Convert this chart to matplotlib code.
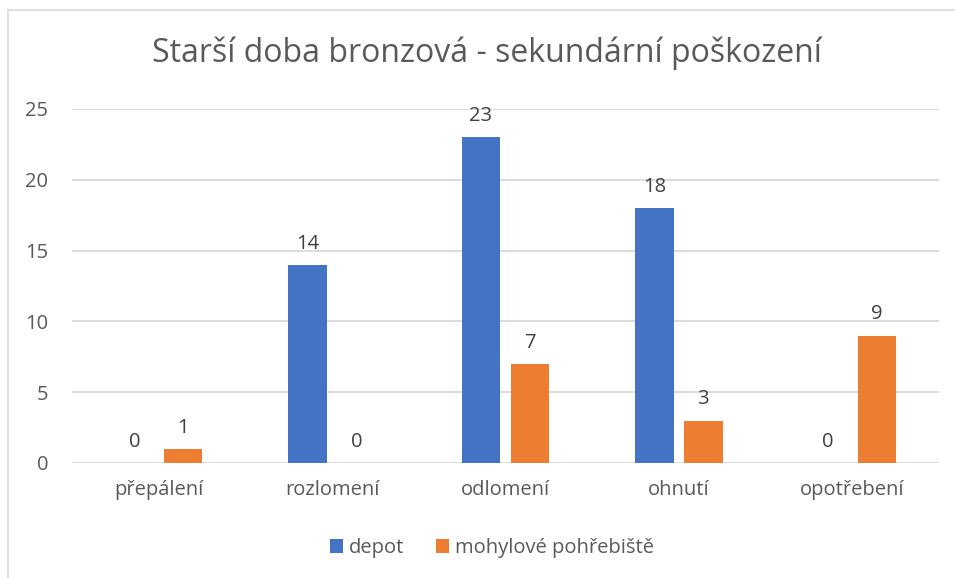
import matplotlib
matplotlib.use("Agg")
import matplotlib.pyplot as plt
import numpy as np
from matplotlib.patches import Rectangle

categories = ["přepálení", "rozlomení", "odlomení", "ohnutí", "opotřebení"]
depot = [0, 14, 23, 18, 0]
mohyl = [1, 0, 7, 3, 9]
series_names = ["depot", "mohylové pohřebiště"]
yticks = [0, 5, 10, 15, 20, 25]

plt.rcParams['font.family'] = ['Open Sans', 'DejaVu Sans']
TXT = '#595959'
BLUE = '#4472C4'
ORANGE = '#ED7D31'

fig = plt.figure(figsize=(9.55, 5.78), dpi=100)
ax = fig.add_axes([72/955, 1-463/578, (939-72)/955, (463-109)/578])

x = np.arange(len(categories))
w = 0.222
off = 0.141
b1 = ax.bar(x - off, depot, w, color=BLUE, label=series_names[0], zorder=3)
b2 = ax.bar(x + off, mohyl, w, color=ORANGE, label=series_names[1], zorder=3)
for bars in (b1, b2):
    ax.bar_label(bars, padding=8, fontsize=14.5, color='#404040')

ax.set_xlim(-0.5, len(categories) - 0.5)
ax.set_ylim(0, 25)
ax.set_yticks(yticks)
ax.set_xticks(x)
ax.set_xticklabels(categories)
ax.tick_params(axis='both', length=0, labelsize=14.5, colors=TXT)
ax.tick_params(axis='y', pad=17)
ax.tick_params(axis='x', pad=12)
ax.yaxis.grid(True, color='#D9D9D9', linewidth=1.3, zorder=0)
for s in ax.spines.values():
    s.set_visible(False)

fig.text(487/955, 1-53/578, "Starší doba bronzová - sekundární poškození",
         ha='center', va='center', fontsize=23, color=TXT)

leg = fig.legend(loc='center', bbox_to_anchor=(492/955, 1-548/578), ncol=2,
                 frameon=False, fontsize=14.5, handlelength=0.65, handleheight=0.65,
                 handletextpad=0.3, columnspacing=1.6)
for t in leg.get_texts():
    t.set_color(TXT)

fig.add_artist(Rectangle((8/955, -0.05), 1.0, 1 - 10/578 + 0.05, transform=fig.transFigure,
                         fill=False, edgecolor='#D9D9D9', linewidth=1.2))

fig.savefig("out.png", dpi=100)
